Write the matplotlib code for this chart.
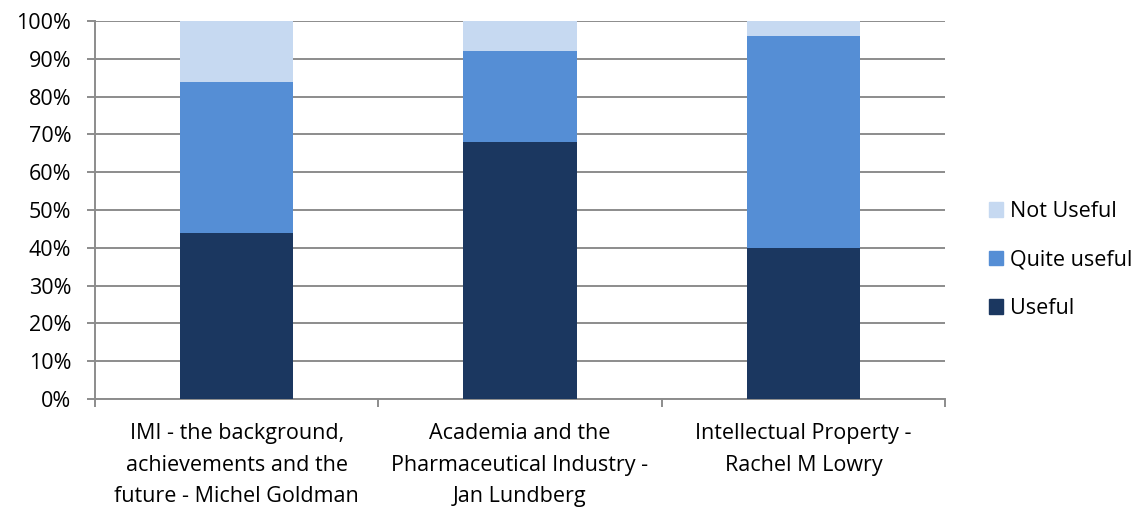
import numpy as np
import matplotlib.pyplot as plt
from matplotlib.patches import Patch

categories = ['IMI - the background,\nachievements and the\nfuture - Michel Goldman',
              'Academia and the\nPharmaceutical Industry -\nJan Lundberg',
              'Intellectual Property -\nRachel M Lowry']
useful = [44, 68, 40]
quite_useful = [40, 24, 56]
not_useful = [16, 8, 4]

c_useful = '#1b3760'
c_quite = '#558ed5'
c_not = '#c6d9f1'
grid_c = '#8c8c8c'

plt.rcParams['font.family'] = ['Open Sans', 'DejaVu Sans']

fig = plt.figure(figsize=(11.42, 5.09), dpi=100)
ax = fig.add_axes([0.0832, 0.216, 0.7443, 0.7427])

x = np.arange(len(categories))
u = np.array(useful)
q = np.array(quite_useful)
n = np.array(not_useful)
ax.bar(x, u, width=0.4, color=c_useful, zorder=3)
ax.bar(x, q, width=0.4, bottom=u, color=c_quite, zorder=3)
ax.bar(x, n, width=0.4, bottom=u + q, color=c_not, zorder=3)

ax.set_xlim(-0.5, len(categories) - 0.5)
ax.set_ylim(0, 100)
ax.set_yticks(range(0, 101, 10))
ax.set_yticklabels([f'{v}%' for v in range(0, 101, 10)], fontsize=15.5)
ax.yaxis.grid(True, color=grid_c, linewidth=1.4, zorder=0)
ax.tick_params(axis='y', length=6, color=grid_c, width=1.4, pad=11)

ax.set_xticks(np.arange(-0.5, len(categories), 1))
ax.set_xticklabels([])
ax.set_xticks(x, minor=True)
ax.set_xticklabels(categories, minor=True, fontsize=15.5, linespacing=1.68)
ax.tick_params(axis='x', which='major', length=6, color=grid_c, width=1.4)
ax.tick_params(axis='x', which='minor', length=0, pad=17)

for s in ['top', 'right']:
    ax.spines[s].set_visible(False)
for s in ['left', 'bottom']:
    ax.spines[s].set_color(grid_c)
    ax.spines[s].set_linewidth(1.4)

handles = [Patch(color=c_not, label='Not Useful'),
           Patch(color=c_quite, label='Quite useful'),
           Patch(color=c_useful, label='Useful')]
fig.legend(handles=handles, loc='center left', bbox_to_anchor=(0.849, 0.489),
           frameon=False, fontsize=15.5, handlelength=0.65, handleheight=0.65,
           handletextpad=0.32, labelspacing=1.28)

fig.savefig('out.png', dpi=100)
